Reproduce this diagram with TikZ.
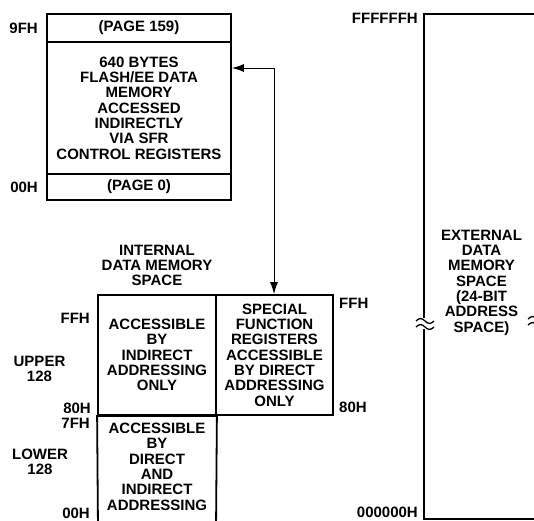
\documentclass[tikz,border=0pt]{standalone}
\usepackage{fontspec}
\setmainfont{Liberation Sans}
\usetikzlibrary{arrows.meta}
\begin{document}
\begin{tikzpicture}[x=1pt,y=-1pt,
  lbl/.style={font=\fontsize{15}{15.3}\selectfont\bfseries, inner sep=0pt, align=center},
  memrect/.style={draw, line width=1.8pt, lbl},
  edge/.style={line width=1.8pt},
  conn/.style={line width=1pt, -{Latex[length=12pt,width=8pt]}},
  wig/.style={line width=1.3pt}]
\clip (0,0) rectangle (534,520);
\fill[white] (0,0) rectangle (534,520);
% flash/EE data memory
\node[memrect, minimum width=184pt, minimum height=28pt] (p159) at (139,28) {(PAGE 159)};
\node[memrect, minimum width=184pt, minimum height=132pt] (flash) at (139,108) {640 BYTES\\FLASH/EE DATA\\MEMORY\\ACCESSED\\INDIRECTLY\\VIA SFR\\CONTROL REGISTERS};
\node[memrect, minimum width=184pt, minimum height=26pt] (p0) at (139,187) {(PAGE 0)};
\node[lbl, anchor=east] (l9f) at (38,28) {9FH};
\node[lbl, anchor=east] (l00a) at (38,187) {00H};
% internal data memory
\node[lbl] (intl) at (157,265.5) {INTERNAL\\DATA MEMORY\\SPACE};
\node[memrect, minimum width=118pt, minimum height=120pt] (upper) at (157,355) {ACCESSIBLE\\BY\\INDIRECT\\ADDRESSING\\ONLY};
\node[memrect, minimum width=117pt, minimum height=120pt] (sfr) at (274.5,355) {SPECIAL\\FUNCTION\\REGISTERS\\ACCESSIBLE\\BY DIRECT\\ADDRESSING\\ONLY};
\coordinate (lowL) at (98,530);
\coordinate (lowR) at (216,530);
\draw[edge] (lowL) -- (upper.south west) -- (upper.south east) -- (lowR);
\node[lbl, anchor=north] (lower) at (157,423) {ACCESSIBLE\\BY\\DIRECT\\AND\\INDIRECT\\ADDRESSING};
\node[lbl, anchor=east] (lffh) at (90,318) {FFH};
\node[lbl] (lup) at (39.5,369) {UPPER\\128};
\node[lbl, anchor=east] (l80h) at (91,408) {80H};
\node[lbl, anchor=east] (l7fh) at (90,423) {7FH};
\node[lbl] (llow) at (40,461.5) {LOWER\\128};
\node[lbl, anchor=east] (l00b) at (90,513) {00H};
\node[lbl, anchor=west] (rffh) at (339,303) {FFH};
\node[lbl, anchor=west] (r80h) at (339,407) {80H};
% connector
\coordinate (corner) at (274,68);
\draw[conn] (corner) -- (corner -| flash.east);
\draw[conn] (corner) -- (corner |- sfr.north);
% external data memory
\coordinate (extTR) at (560,14);
\coordinate (extTL) at (424,14);
\coordinate (extBL) at (424,519);
\coordinate (extBR) at (560,519);
\draw[edge] (extTR) -- (extTL) -- (extBL) -- (extBR);
\node[lbl] (ext) at (481.5,282.5) {EXTERNAL\\DATA\\MEMORY\\SPACE\\(24-BIT\\ADDRESS\\SPACE)};
\node[lbl, anchor=east] (ltop) at (418,18.5) {FFFFFFH};
\node[lbl, anchor=east] (lbot) at (418,512.5) {000000H};
% break marks
\fill[white] (419,318) rectangle (429,329);
\draw[wig] (416,321) sin (420.5,318.5) cos (425,321) sin (429.5,323.5) cos (434,321);
\draw[wig] (416,327) sin (420.5,324.5) cos (425,327) sin (429.5,329.5) cos (434,327);
\draw[wig] (528,319) sin (532.5,316.5) cos (537,319) sin (541.5,321.5) cos (546,319);
\draw[wig] (528,325) sin (532.5,322.5) cos (537,325) sin (541.5,327.5) cos (546,325);
\end{tikzpicture}
\end{document}
